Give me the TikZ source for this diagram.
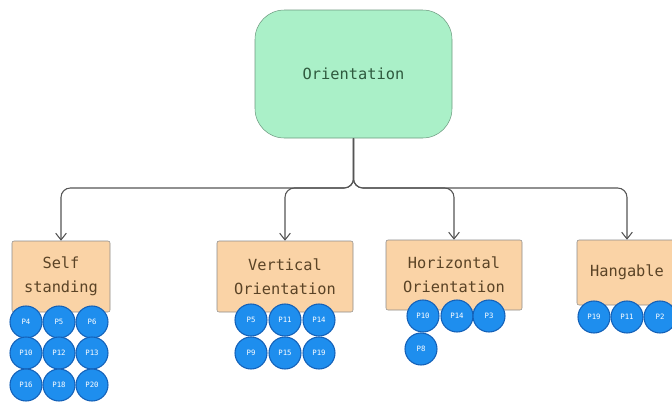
\documentclass[tikz,border=0pt]{standalone}
\usepackage{fontspec}
\setmonofont{DejaVu Sans Mono}
\usetikzlibrary{arrows.meta, positioning}
\definecolor{rootfill}{HTML}{AAF0C8}
\definecolor{rootline}{HTML}{6E9A80}
\definecolor{roottext}{HTML}{2F5A3E}
\definecolor{catfill}{HTML}{FAD3A6}
\definecolor{catline}{HTML}{8C8C8C}
\definecolor{cattext}{HTML}{5A4326}
\definecolor{partfill}{HTML}{1E8EEE}
\definecolor{partline}{HTML}{1461B8}
\definecolor{linkcol}{HTML}{555555}

\tikzset{
  root/.style={draw=rootline, fill=rootfill, rounded corners=22pt, text=roottext,
    minimum width=147.75pt, minimum height=96pt,
    font=\ttfamily\fontsize{11.5}{18}\selectfont},
  catbox/.style={draw=catline, fill=catfill, rounded corners=1.5pt, text=cattext,
    minimum height=53.25pt, align=center,
    font=\ttfamily\fontsize{11.5}{18}\selectfont},
  part/.style={circle, draw=partline, line width=0.8pt, fill=partfill, text=white,
    minimum size=24pt, inner sep=0pt, font=\ttfamily\fontsize{5.5}{6}\selectfont},
  link/.style={draw=linkcol, line width=0.8pt, rounded corners=7pt,
    -{Straight Barb[length=5pt, width=8pt]}}
}

\begin{document}
\begin{tikzpicture}[x=0.75pt, y=-0.75pt]
\useasboundingbox (0,0) rectangle (672,401);

% top node
\node[root] (orient) at (353.5,74) {Orientation};

% categories
\node[catbox, minimum width=73.5pt] (self) at (61,276.5) {Self\\standing};
\node[catbox, minimum width=102pt] (vert) at (285,276.5) {Vertical\\Orientation};
\node[catbox, minimum width=102pt, minimum height=52.5pt] (horiz) at (454,275) {Horizontal\\Orientation};
\node[catbox, minimum width=75pt, minimum height=48.75pt] (hang) at (627,272.5) {Hangable};

% branches
\coordinate (split) at (353.5,188);
\foreach \c in {self, vert, horiz, hang}
  \draw[link] (orient.south) -- (split) -| (\c.north);

% parts under each category
\node[part] (s1) at (26,322) {P4};
\node[part] (s2) at (59,322) {P5};
\node[part] (s3) at (92,322) {P6};
\node[part] (s4) at (26,353) {P10};
\node[part] (s5) at (59,353) {P12};
\node[part] (s6) at (92,353) {P13};
\node[part] (s7) at (26,385) {P16};
\node[part] (s8) at (59,385) {P18};
\node[part] (s9) at (92,385) {P20};

\node[part] (v1) at (251,320) {P5};
\node[part] (v2) at (285,320) {P11};
\node[part] (v3) at (319,320) {P14};
\node[part] (v4) at (251,353) {P9};
\node[part] (v5) at (285,353) {P15};
\node[part] (v6) at (319,353) {P19};

\node[part] (h1) at (423,316) {P10};
\node[part] (h2) at (457,316) {P14};
\node[part] (h3) at (489,316) {P3};
\node[part] (h4) at (421,349) {P8};

\node[part] (g1) at (594,317) {P19};
\node[part] (g2) at (627,317) {P11};
\node[part] (g3) at (660,317) {P2};
\end{tikzpicture}
\end{document}
